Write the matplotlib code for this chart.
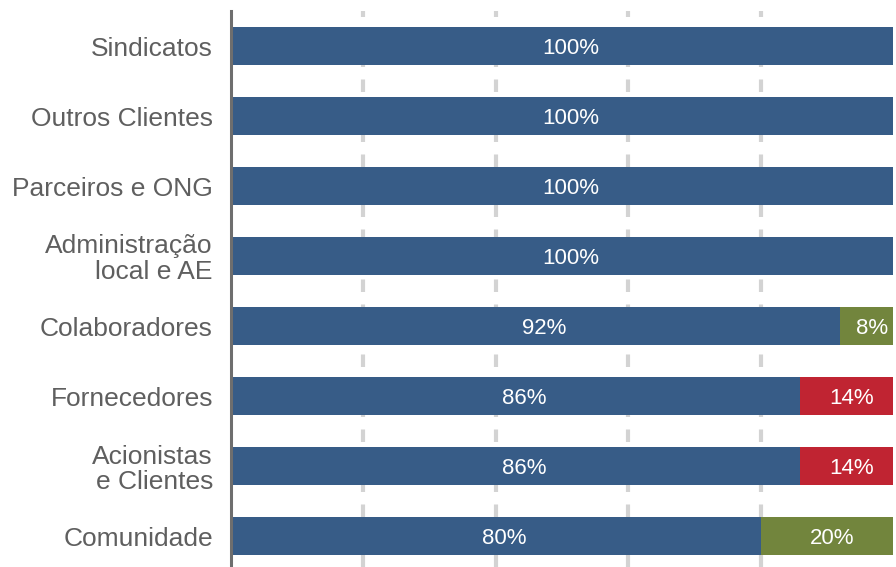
import matplotlib.pyplot as plt
import numpy as np

categories = ["Sindicatos", "Outros Clientes", "Parceiros e ONG",
              "Administração\nlocal e AE", "Colaboradores", "Fornecedores",
              "Acionistas\ne Clientes", "Comunidade"]
blue_vals = [100, 100, 100, 100, 92, 86, 86, 80]
green_vals = [0, 0, 0, 0, 8, 0, 0, 20]
red_vals = [0, 0, 0, 0, 0, 14, 14, 0]

BLUE = "#375c87"
GREEN = "#72853d"
RED = "#c02432"

plt.rcParams["font.family"] = ["Liberation Sans", "DejaVu Sans"]

fig = plt.figure(figsize=(8.96, 5.67), dpi=100)
ax = fig.add_axes([231 / 896, 0, (893 - 231) / 896, (567 - 11) / 567])

y = np.arange(len(categories))
h = 0.54
ax.barh(y, blue_vals, height=h, color=BLUE, zorder=3)
ax.barh(y, green_vals, left=blue_vals, height=h, color=GREEN, zorder=3)
ax.barh(y, red_vals, left=blue_vals, height=h, color=RED, zorder=3)

# labels sit a little right of the segment centre, as in the original
shift = 1.3
for i in range(len(categories)):
    ax.text(blue_vals[i] / 2 + shift, y[i], f"{blue_vals[i]}%", ha="center",
            va="center_baseline", color="white", fontsize=16, zorder=4)
    for vals in (green_vals, red_vals):
        if vals[i] > 0:
            ax.text(blue_vals[i] + vals[i] / 2 + 0.8, y[i], f"{vals[i]}%",
                    ha="center", va="center_baseline", color="white",
                    fontsize=16, zorder=4)

for gx in (20, 40, 60, 80):
    ax.axvline(gx, color="#d3d3d3", linewidth=3, dashes=(3, 3), zorder=1)

ax.set_xlim(0, 100)
ax.set_ylim(7.5 - 4 / 70, -0.5)
ax.set_yticks(y)
ax.set_yticklabels(categories, fontsize=19, color="#5f5f5f", linespacing=1.1)
ax.tick_params(axis="y", length=0, pad=13)
ax.set_xticks([])
for s in ("top", "right", "bottom"):
    ax.spines[s].set_visible(False)
ax.spines["left"].set_color("#6e6e6e")
ax.spines["left"].set_linewidth(2.2)
ax.spines["left"].set_zorder(5)

fig.savefig("out.png", dpi=100)
